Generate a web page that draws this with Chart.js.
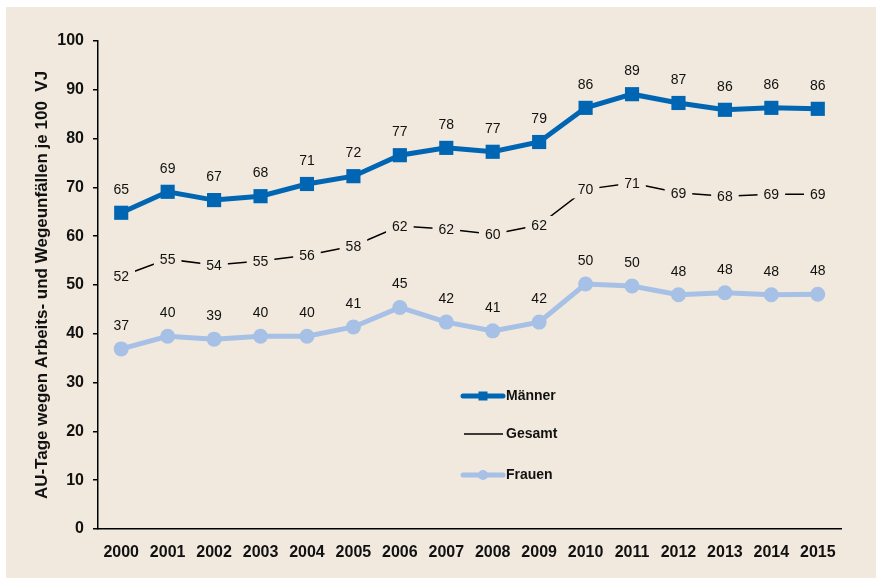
<!DOCTYPE html>
<html>
<head>
<meta charset="utf-8">
<script src="https://cdn.jsdelivr.net/npm/chart.js@4.4.1/dist/chart.umd.min.js"></script>
<style>
  html, body { margin: 0; padding: 0; background: #ffffff; }
  #frame {
    position: absolute;
    left: 6px; top: 7px;
    width: 870px; height: 571px;
    background: #f1e9dd;
  }
  canvas { display: block; }
</style>
</head>
<body>
<div id="frame">
  <canvas id="auChart" width="870" height="571"></canvas>
</div>
<script>
// Chart data
const years = ['2000', '2001', '2002', '2003', '2004', '2005', '2006', '2007',
               '2008', '2009', '2010', '2011', '2012', '2013', '2014', '2015'];
const maenner = [64.8, 69.1, 67.4, 68.2, 70.7, 72.3, 76.6, 78.1, 77.3, 79.3, 86.3, 89.1, 87.3, 85.9, 86.3, 86.1];
const gesamt  = [51.8, 55.3, 54.1, 54.9, 56.1, 58.0, 62.1, 61.5, 60.4, 62.3, 69.6, 70.9, 68.9, 68.2, 68.6, 68.6];
const frauen  = [36.9, 39.5, 38.9, 39.5, 39.5, 41.4, 45.4, 42.4, 40.6, 42.4, 50.2, 49.8, 48.0, 48.4, 48.0, 48.1];
const yTicks = [0, 10, 20, 30, 40, 50, 60, 70, 80, 90, 100];

const BEIGE = '#f1e9dd';
const BLUE = '#0066b3';
const LIGHT_BLUE = '#a6c0e6';
const FONT = '"Liberation Sans", Arial, Helvetica, sans-serif';

// value labels, plus gaps in the thin Gesamt line
const valueLabels = {
    id: 'valueLabels',
    afterDatasetsDraw(chart) {
        const ctx = chart.ctx;
        ctx.save();
        ctx.font = '14px ' + FONT;
        ctx.textAlign = 'center';
        ctx.textBaseline = 'middle';
        chart.data.datasets.forEach((ds, i) => {
            const meta = chart.getDatasetMeta(i);
            meta.data.forEach((pt, j) => {
                const txt = String(Math.round(ds.data[j]));
                if (ds.label === 'Gesamt') {
                    const w = ctx.measureText(txt).width;
                    ctx.fillStyle = BEIGE;
                    ctx.fillRect(pt.x - w / 2 - 6, pt.y - 9, w + 12, 18);
                    ctx.fillStyle = '#111';
                    ctx.fillText(txt, pt.x, pt.y + 1);
                } else {
                    ctx.fillStyle = '#111';
                    ctx.fillText(txt, pt.x, pt.y - 23);
                }
            });
        });
        ctx.restore();
    }
};

// legend sitting inside the plot area
const innerLegend = {
    id: 'innerLegend',
    afterDraw(chart) {
        const ctx = chart.ctx;
        const x0 = 457, x1 = 497, tx = 500;
        const rows = [389, 427, 468];
        ctx.save();
        ctx.lineCap = 'round';

        // Männer
        let y = rows[0];
        ctx.strokeStyle = BLUE;
        ctx.lineWidth = 5;
        ctx.beginPath(); ctx.moveTo(x0, y); ctx.lineTo(x1, y); ctx.stroke();
        ctx.fillStyle = BLUE;
        ctx.fillRect((x0 + x1) / 2 - 4.5, y - 4.5, 9, 9);

        // Gesamt
        y = rows[1];
        ctx.strokeStyle = '#000';
        ctx.lineWidth = 1.5;
        ctx.lineCap = 'butt';
        ctx.beginPath(); ctx.moveTo(x0 + 1, y); ctx.lineTo(x1, y); ctx.stroke();

        // Frauen
        y = rows[2];
        ctx.lineCap = 'round';
        ctx.strokeStyle = LIGHT_BLUE;
        ctx.lineWidth = 5;
        ctx.beginPath(); ctx.moveTo(x0, y); ctx.lineTo(x1, y); ctx.stroke();
        ctx.fillStyle = LIGHT_BLUE;
        ctx.beginPath(); ctx.arc((x0 + x1) / 2, y, 5, 0, Math.PI * 2); ctx.fill();

        ctx.fillStyle = '#111';
        ctx.font = 'bold 14px ' + FONT;
        ctx.textAlign = 'left';
        ctx.textBaseline = 'middle';
        ctx.fillText('Männer', tx, rows[0]);
        ctx.fillText('Gesamt', tx, rows[1]);
        ctx.fillText('Frauen', tx, rows[2]);
        ctx.restore();
    }
};

const ctx = document.getElementById('auChart').getContext('2d');
new Chart(ctx, {
    type: 'line',
    data: {
        labels: years,
        datasets: [
            {
                label: 'Männer',
                data: maenner,
                borderColor: BLUE,
                backgroundColor: BLUE,
                borderWidth: 5,
                pointStyle: 'rect',
                pointRadius: 10,
                pointBorderWidth: 0,
                tension: 0
            },
            {
                label: 'Gesamt',
                data: gesamt,
                borderColor: '#000',
                borderWidth: 1.5,
                pointRadius: 0,
                tension: 0
            },
            {
                label: 'Frauen',
                data: frauen,
                borderColor: LIGHT_BLUE,
                backgroundColor: LIGHT_BLUE,
                borderWidth: 5,
                pointStyle: 'circle',
                pointRadius: 7.5,
                pointBorderWidth: 0,
                tension: 0
            }
        ]
    },
    options: {
        responsive: false,
        animation: false,
        layout: { padding: { top: 34, right: 35, bottom: 0, left: 0 } },
        plugins: {
            legend: { display: false },
            tooltip: { enabled: false }
        },
        scales: {
            x: {
                offset: true,
                grid: { display: false },
                border: { display: true, color: '#000', width: 1.5 },
                ticks: {
                    color: '#111',
                    padding: 6,
                    maxRotation: 0,
                    autoSkip: false,
                    font: { family: FONT, size: 16, weight: 'bold' }
                },
                afterFit(scale) { scale.height = 49; }
            },
            y: {
                min: 0,
                max: 100,
                afterBuildTicks(scale) {
                    scale.ticks = yTicks.map(v => ({ value: v }));
                },
                grid: {
                    drawOnChartArea: false,
                    drawTicks: true,
                    tickLength: 5,
                    color: '#000',
                    lineWidth: 1.5
                },
                border: { display: true, color: '#000', width: 1.5 },
                ticks: {
                    color: '#111',
                    padding: 9,
                    font: { family: FONT, size: 16, weight: 'bold' }
                },
                title: {
                    display: true,
                    text: 'AU-Tage wegen Arbeits- und Wegeunfällen je 100  VJ',
                    color: '#111',
                    padding: { top: 26, bottom: 0 },
                    font: { family: FONT, size: 17, weight: 'bold' }
                },
                afterFit(scale) { scale.width = 92; }
            }
        }
    },
    plugins: [valueLabels, innerLegend]
});
</script>
</body>
</html>
